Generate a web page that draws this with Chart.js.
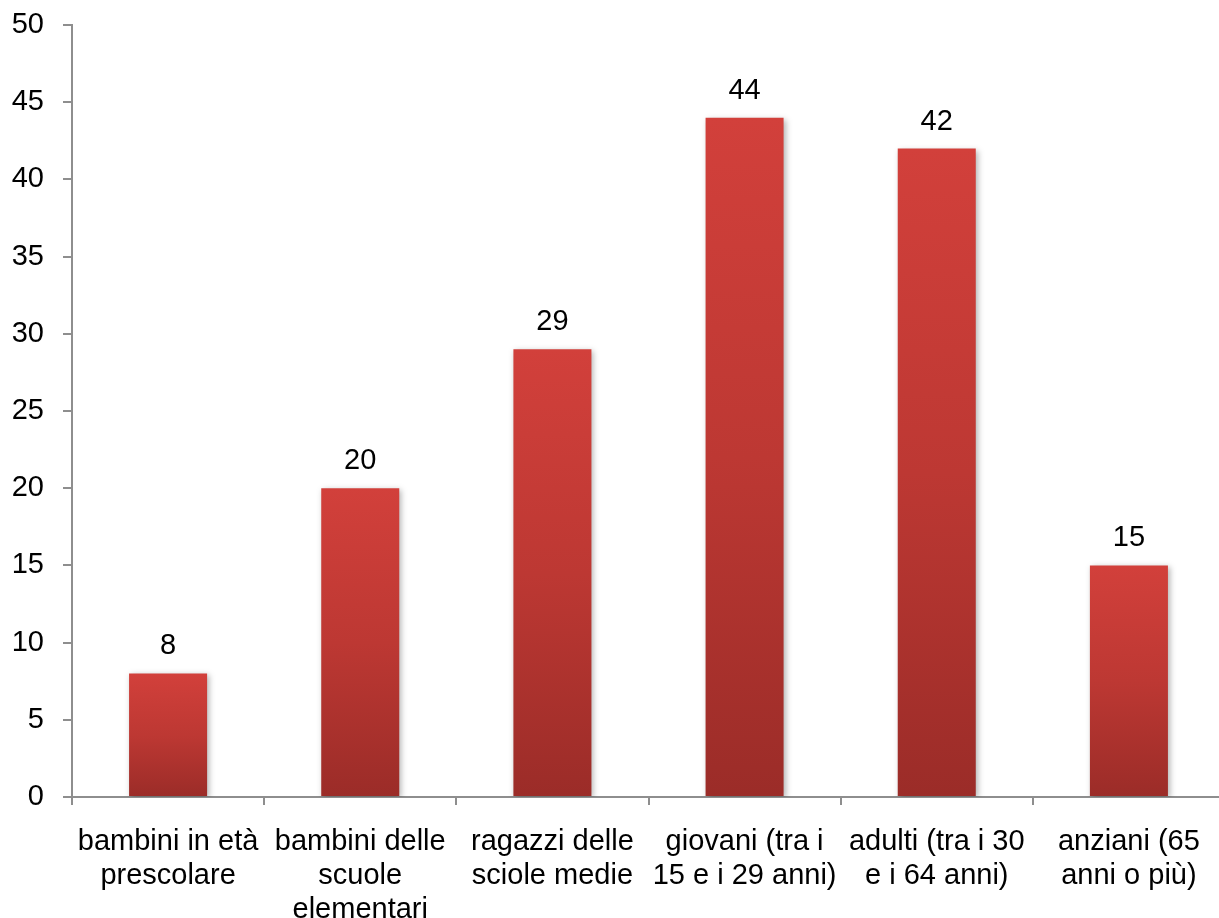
<!DOCTYPE html>
<html>
<head>
<meta charset="utf-8">
<script src="https://cdn.jsdelivr.net/npm/chart.js@4"></script>
<style>
  html, body { margin: 0; padding: 0; background: #fff; overflow: hidden; }
  #wrap { width: 1226px; height: 918px; }
</style>
</head>
<body>
<div id="wrap"><canvas id="chart" width="1226" height="918"></canvas></div>
<script>
// categories and values
const categories = [
    ['bambini in età', 'prescolare'],
    ['bambini delle', 'scuole', 'elementari'],
    ['ragazzi delle', 'sciole medie'],
    ['giovani (tra i', '15 e i 29 anni)'],
    ['adulti (tra i 30', 'e i 64 anni)'],
    ['anziani (65', 'anni o più)']
];
const values = [8, 20, 29, 44, 42, 15];
const yTicks = [0, 5, 10, 15, 20, 25, 30, 35, 40, 45, 50];

const FONT = '"Liberation Sans", Arial, sans-serif';
const AXIS = '#8e8e8e';

// vertical gradient over each bar's own height
function barGradient(context) {
    const chart = context.chart;
    if (!chart.chartArea || !chart.scales.y) return '#c0392f';
    const y = chart.scales.y;
    const top = y.getPixelForValue(values[context.dataIndex]);
    const bottom = y.getPixelForValue(0);
    const g = chart.ctx.createLinearGradient(0, top, 0, bottom);
    g.addColorStop(0, '#d2403b');
    g.addColorStop(0.5, '#bd3833');
    g.addColorStop(1, '#9b2c28');
    return g;
}

// soft shadow behind the bars
const barShadow = {
    id: 'barShadow',
    beforeDatasetsDraw(chart) {
        const ctx = chart.ctx;
        ctx.save();
        ctx.shadowColor = 'rgba(0,0,0,0.3)';
        ctx.shadowBlur = 6;
        ctx.shadowOffsetX = 2;
        ctx.shadowOffsetY = 2;
    },
    afterDatasetsDraw(chart) {
        chart.ctx.restore();
    }
};

// value labels above bars
const valueLabels = {
    id: 'valueLabels',
    afterDatasetsDraw(chart) {
        const ctx = chart.ctx;
        const meta = chart.getDatasetMeta(0);
        ctx.save();
        ctx.font = '29px ' + FONT;
        ctx.fillStyle = '#000';
        ctx.textAlign = 'center';
        ctx.textBaseline = 'middle';
        meta.data.forEach((bar, i) => {
            ctx.fillText(String(values[i]), bar.x, bar.y - 27);
        });
        ctx.restore();
    }
};

new Chart(document.getElementById('chart'), {
    type: 'bar',
    data: {
        labels: categories,
        datasets: [{
            data: values,
            backgroundColor: barGradient,
            borderWidth: 0,
            categoryPercentage: 1,
            barPercentage: 0.406
        }]
    },
    options: {
        responsive: false,
        animation: false,
        layout: { padding: { top: 25, right: 1, left: 0, bottom: 0 } },
        plugins: {
            legend: { display: false },
            tooltip: { enabled: false }
        },
        scales: {
            x: {
                grid: {
                    drawOnChartArea: false,
                    drawTicks: true,
                    tickLength: 8,
                    color: AXIS,
                    lineWidth: 2,
                    offset: true
                },
                border: { color: AXIS, width: 2 },
                ticks: {
                    autoSkip: false,
                    maxRotation: 0,
                    minRotation: 0,
                    padding: 20,
                    color: '#000',
                    font: { family: FONT, size: 29, lineHeight: 1.17 }
                },
                afterFit(scale) {
                    scale.height = 121;
                    scale.paddingLeft = 0;
                    scale.paddingRight = 0;
                }
            },
            y: {
                min: 0,
                max: 50,
                grid: {
                    drawOnChartArea: false,
                    drawTicks: true,
                    tickLength: 9,
                    color: AXIS,
                    lineWidth: 2
                },
                border: { color: AXIS, width: 2 },
                ticks: {
                    stepSize: 5,
                    padding: 19,
                    color: '#000',
                    font: { family: FONT, size: 29 },
                    callback: (v) => yTicks.includes(v) ? String(v) : ''
                },
                afterFit(scale) {
                    scale.width = 72;
                    scale.paddingTop = 0;
                    scale.paddingBottom = 0;
                }
            }
        }
    },
    plugins: [barShadow, valueLabels]
});
</script>
</body>
</html>
